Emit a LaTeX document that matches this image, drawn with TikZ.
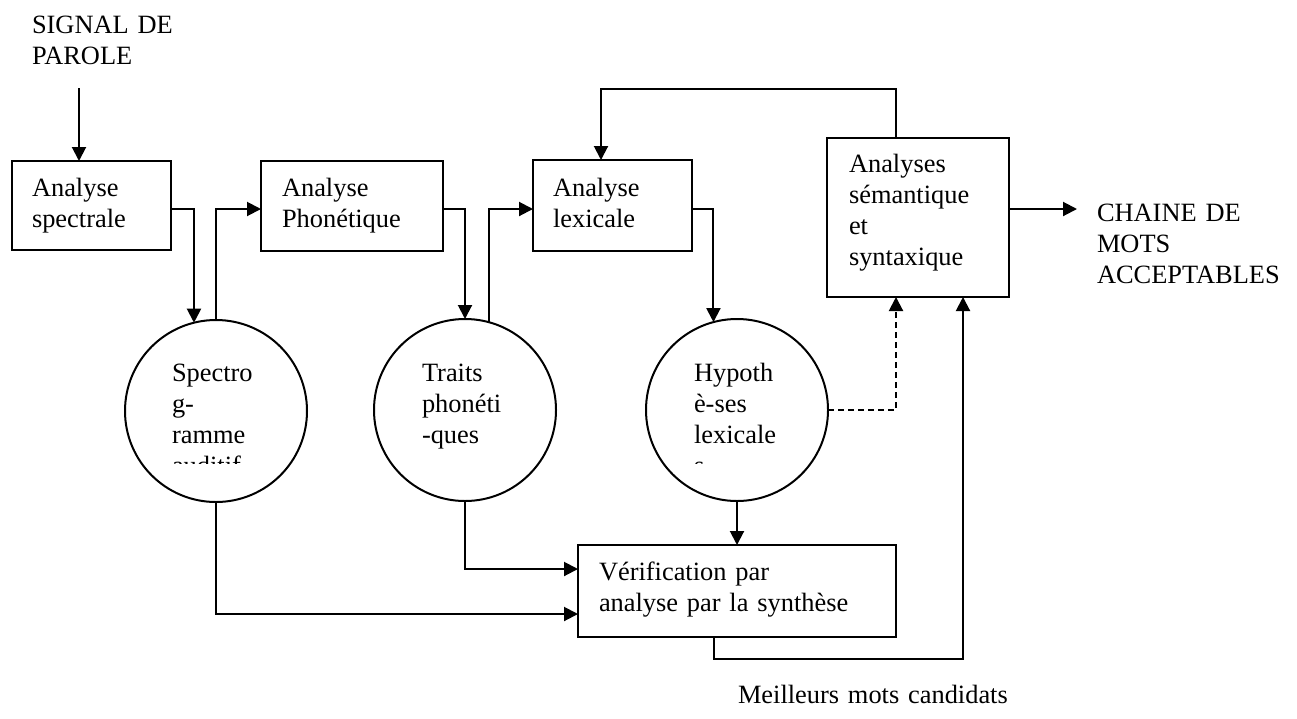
\documentclass[tikz,border=0pt]{standalone}
\usepackage{fontspec}
\setmainfont{Liberation Serif}
\usetikzlibrary{arrows.meta,calc}
\begin{document}
\begin{tikzpicture}[x=1pt,y=-1pt,
  line width=2pt,
  txt/.style={font=\fontsize{26.4}{31}\selectfont, anchor=base west, inner sep=0pt, outer sep=0pt, text width=330pt, align=left},
  box/.style={draw, rectangle, inner sep=0pt, outer sep=0pt},
  bubble/.style={draw, circle, inner sep=0pt, outer sep=0pt, minimum size=182pt},
  arr/.style={-{Triangle[length=14pt,width=14pt]}},
  dashline/.style={dash pattern=on 6pt off 4pt}]
\useasboundingbox (0,0) rectangle (1297,718);

% boxes
\node[box, minimum width=159pt, minimum height=89pt] (b1) at (91.5,205.5) {};
\node[box, minimum width=182pt, minimum height=90pt] (b2) at (352,206) {};
\node[box, minimum width=159pt, minimum height=91pt] (b3) at (612.5,205.5) {};
\node[box, minimum width=182pt, minimum height=159pt] (b4) at (918,217.5) {};
\node[box, minimum width=318pt, minimum height=92pt] (b5) at (737,591) {};

% circles
\node[bubble] (c1) at (216,411) {};
\node[bubble] (c2) at (465,410) {};
\node[bubble] (c3) at (737,410) {};

% texts
\node[txt] (sig) at (32,33) {SIGNAL DE\\PAROLE};
\node[txt] (t1) at (32,196) {Analyse\\spectrale};
\node[txt] (t2) at (282,196) {Analyse\\Phonétique};
\node[txt] (t3) at (553,196) {Analyse\\lexicale};
\node[txt] (t4) at (849,172) {Analyses\\sémantique\\et\\syntaxique};
\node[txt] (t5) at (599,580) {Vérification par\\analyse par la synthèse};
\node[txt] (out) at (1097,221) {CHAINE DE\\MOTS\\ACCEPTABLES};
\node[txt] (best) at (738,703) {Meilleurs mots candidats};

\begin{scope}
  \clip (120,340) rectangle (320,463.5);
  \node[txt] (tc1) at (172,381) {Spectro\\g-\\ramme\\auditif};
\end{scope}
\node[txt] (tc2) at (422,381) {Traits\\phonéti\\-ques};
\begin{scope}
  \clip (640,340) rectangle (830,463.5);
  \node[txt] (tc3) at (694,381) {Hypoth\\è-ses\\lexicale\\s};
\end{scope}

% connectors
\coordinate (sigstart) at (79,88);
\draw[arr] (sigstart) -- (sigstart |- b1.north);
\draw[arr] ([yshift=-3.5pt]b1.east) -| (c1.104.6);
\draw[arr] (c1.north) |- ([yshift=-3pt]b2.west);
\draw[arr] ([yshift=-3pt]b2.east) -| (c2.north);
\draw[arr] (c2.75.4) |- ([yshift=-3.5pt]b3.west);
\draw[arr] ([yshift=-3.5pt]b3.east) -| (c3.105.1);
\draw[arr, dashline] (c3.east) -| ([xshift=-22pt]b4.south);
\draw[arr] (c3.south) -- (c3.south |- b5.north);
\draw[arr] (c2.south) |- ([yshift=22pt]b5.west);
\draw[arr] (c1.south) |- ([yshift=-23pt]b5.west);
\draw[arr] ([xshift=-23pt]b5.south) -- ++(0,22) -| ([xshift=45pt]b4.south);
\coordinate (outend) at (1077,209);
\draw[arr] ([yshift=8.5pt]b4.east) -- (outend);
\draw[arr] ([xshift=-22pt]b4.north) -- ++(0,-49) -| ([xshift=-11.5pt]b3.north);
\end{tikzpicture}
\end{document}
